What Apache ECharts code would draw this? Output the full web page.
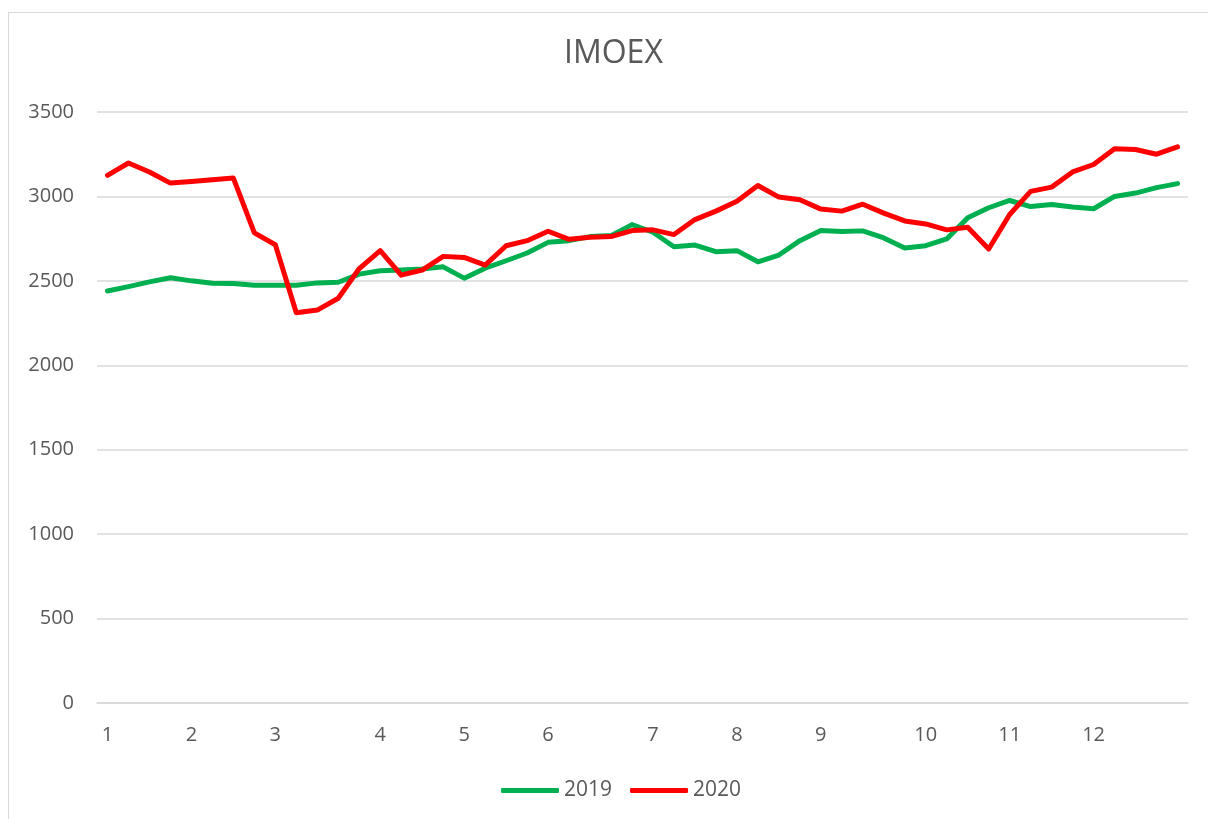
<!DOCTYPE html>
<html>
<head>
<meta charset="utf-8">
<title>IMOEX</title>
<script src="https://cdn.jsdelivr.net/npm/echarts@6/dist/echarts.min.js"></script>
<style>
  html, body { margin: 0; padding: 0; background: #fff; overflow: hidden; }
  #frame {
    position: absolute; left: 8px; top: 12px; width: 1400px; height: 1000px;
    border: 1.5px solid #d9d9d9; box-sizing: border-box;
  }
  #chart { position: absolute; left: 0; top: 0; width: 1208px; height: 819px; }
</style>
</head>
<body>
<div id="frame"></div>
<div id="chart"></div>
<script>
// weekly points, labelled by month at the week that starts it
const weeks = [1, 2, 3, 4, 5, 6, 7, 8, 9, 10, 11, 12, 13, 14, 15, 16, 17, 18, 19, 20, 21, 22, 23, 24, 25, 26,
  27, 28, 29, 30, 31, 32, 33, 34, 35, 36, 37, 38, 39, 40, 41, 42, 43, 44, 45, 46, 47, 48, 49, 50, 51, 52];
const monthWeeks = [1, 5, 9, 14, 18, 22, 27, 31, 35, 40, 44, 48];
const monthLabels = ["1", "2", "3", "4", "5", "6", "7", "8", "9", "10", "11", "12"];

const imoex2019 = [2440, 2466, 2494, 2518, 2500, 2486, 2484, 2474, 2474, 2474, 2488, 2492, 2540,
  2560, 2564, 2570, 2583, 2516, 2575, 2619, 2665, 2728, 2738, 2762, 2768, 2833,
  2788, 2702, 2712, 2673, 2679, 2613, 2653, 2738, 2798, 2792, 2796, 2754, 2694,
  2708, 2748, 2873, 2933, 2976, 2940, 2952, 2937, 2927, 3000, 3020, 3052, 3076];
const imoex2020 = [3125, 3198, 3145, 3079, 3089, 3099, 3109, 2784, 2714, 2311, 2327, 2397, 2573,
  2679, 2534, 2564, 2645, 2639, 2593, 2708, 2738, 2794, 2746, 2758, 2762, 2798,
  2802, 2774, 2863, 2913, 2972, 3065, 2996, 2980, 2925, 2913, 2954, 2901, 2855,
  2837, 2802, 2818, 2689, 2893, 3030, 3055, 3145, 3189, 3282, 3278, 3250, 3294];

const yTicks = { min: 0, max: 3500, step: 500 };

const textColor = "#595959";
const gridColor = "#d9d9d9";
const font = "'Open Sans', 'Noto Sans', sans-serif";

const chart = echarts.init(document.getElementById("chart"));

const option = {
  animation: false,
  textStyle: { fontFamily: font },
  title: {
    text: "IMOEX",
    left: 564,
    top: 38,
    padding: 0,
    textStyle: { color: textColor, fontSize: 32, fontWeight: "normal", fontFamily: font }
  },
  legend: {
    left: 496,
    top: 775,
    icon: "roundRect",
    itemWidth: 58,
    itemHeight: 5,
    itemGap: 18,
    textStyle: { color: textColor, fontSize: 21, fontFamily: font },
    data: ["2019", "2020"]
  },
  grid: {
    left: 97,
    right: 20,
    top: 112,
    bottom: 116,
    containLabel: false,
    outerBoundsMode: "none"
  },
  xAxis: {
    type: "category",
    boundaryGap: true,
    data: weeks,
    axisLine: { lineStyle: { color: gridColor, width: 1.5 } },
    axisTick: { show: false },
    axisLabel: {
      interval: 0,
      margin: 22,
      color: textColor,
      fontSize: 20,
      formatter: (value, index) => {
        const m = monthWeeks.indexOf(weeks[index]);
        return m >= 0 ? monthLabels[m] : "";
      }
    },
    splitLine: { show: false }
  },
  yAxis: {
    type: "value",
    min: yTicks.min,
    max: yTicks.max,
    interval: yTicks.step,
    axisLine: { show: false },
    axisTick: { show: false },
    axisLabel: { margin: 23, color: textColor, fontSize: 20, formatter: v => String(v) },
    splitLine: { lineStyle: { color: gridColor, width: 1.5 } }
  },
  series: [
    {
      name: "2019",
      type: "line",
      data: imoex2019,
      showSymbol: false,
      color: "#00b050",
      lineStyle: { width: 5, cap: "round", join: "round" }
    },
    {
      name: "2020",
      type: "line",
      data: imoex2020,
      showSymbol: false,
      color: "#ff0000",
      lineStyle: { width: 5, cap: "round", join: "round" }
    }
  ]
};

chart.setOption(option);
</script>
</body>
</html>
